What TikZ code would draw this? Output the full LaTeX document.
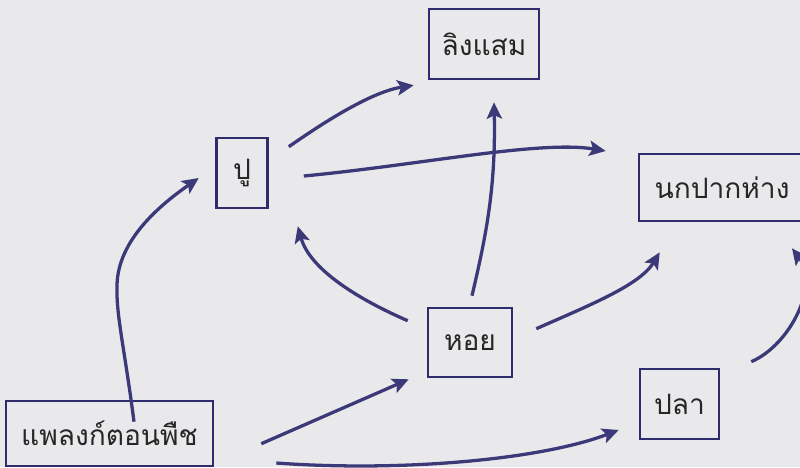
\documentclass[tikz,border=0pt]{standalone}
\usepackage{fontspec}
\newfontfamily\thaifont[Script=Thai]{Loma}
\usetikzlibrary{arrows.meta,calc}
\definecolor{bgpaper}{HTML}{E9E9EB}
\definecolor{ink}{HTML}{2F2C6E}
\definecolor{arrowink}{HTML}{3B3978}
\tikzset{
  box/.style={draw=ink, line width=2.2pt, rectangle, inner sep=0pt, font=\thaifont\fontsize{24}{28}\selectfont, text=black!85},
  link/.style={draw=arrowink, line width=2.8pt, -{Stealth[length=14pt,width=13pt,inset=3pt]}}
}
\begin{document}
\begin{tikzpicture}[x=0.03cm,y=-0.03cm]
\path[use as bounding box, fill=bgpaper] (0,0) rectangle (800,467);
\clip (0,0) rectangle (800,467);

\node[box, minimum width=3.3cm, minimum height=2.1cm] (ling) at (484,44) {ลิงแสม};
\node[box, minimum width=1.53cm, minimum height=2.1cm] (pu) at (242,173) {ปู};
\node[box, minimum width=4.98cm, minimum height=2.01cm] (nok) at (722,187.5) {นกปากห่าง};
\node[box, minimum width=2.52cm, minimum height=2.07cm] (hoi) at (470,342.5) {หอย};
\node[box, minimum width=2.37cm, minimum height=2.1cm] (pla) at (679.5,404) {ปลา};
\node[box, minimum width=6.21cm, minimum height=1.95cm] (plank) at (109.5,433.5) {แพลงก์ตอนพืช};

% plankton -> crab
\draw[link] ($(plank.north)+(24.5,22)$) .. controls (124,345) and (116,315) .. (117,285)
  .. controls (118,240) and (160,205) .. ($(pu.west)+(-16.5,5)$);
% plankton -> snail
\draw[link] ($(plank.north east)+(47,44)$) -- ($(hoi.south west)+(-18,1)$);
% plankton -> fish
\draw[link] ($(plank.east)+(62,29.5)$) .. controls (400,472) and (540,460) .. ($(pla.west)+(-20,26)$);
% crab -> macaque
\draw[link] ($(pu.north east)+(20,10)$) .. controls (320,125) and (370,92) .. ($(ling.south west)+(-14,5)$);
% crab -> stork
\draw[link] ($(pu.east)+(35,3)$) .. controls (420,165) and (540,140) .. ($(nok.west)+(-32,-36.5)$);
% snail -> crab
\draw[link] ($(hoi.north west)+(-19,14)$) .. controls (360,300) and (310,270) .. ($(pu.south east)+(29,17)$);
% snail -> macaque
\draw[link] ($(hoi.north)+(2,-11)$) .. controls (485,240) and (496,190) .. ($(ling.south)+(10,22)$);
% snail -> stork
\draw[link] ($(hoi.north east)+(23,22)$) .. controls (590,305) and (640,285) .. ($(nok.south west)+(22,30)$);
% fish -> stork
\draw[link] ($(pla.north east)+(31,-6)$) .. controls (790,345) and (820,285) .. ($(nok.south)+(70,26)$);
\end{tikzpicture}
\end{document}
